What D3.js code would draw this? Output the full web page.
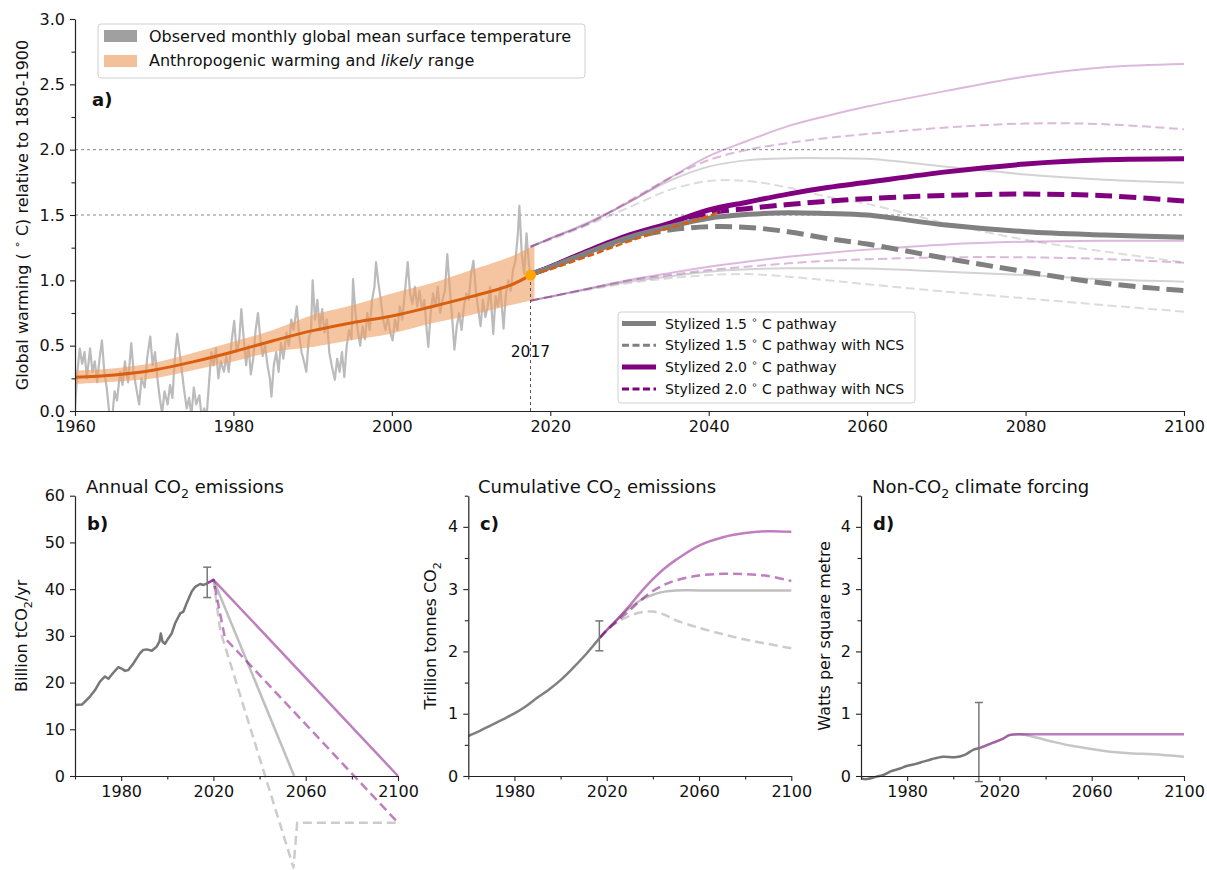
<!DOCTYPE html>
<html>
<head>
<meta charset="utf-8">
<script src="https://cdn.jsdelivr.net/npm/d3@7"></script>
<style>
body { margin:0; background:#fff; }
svg text { font-family:"DejaVu Sans", sans-serif; fill:#111; }
</style>
</head>
<body>
<svg id="fig" width="1207" height="870"></svg>
<script>
// ---------- panel a data ----------
// observed monthly GMST as [year, degC]
const obs = [
  [1960.0,0.02],[1960.3,0.30],[1960.6,0.48],[1960.9,0.36],[1961.2,0.45],[1961.5,0.25],[1961.9,0.48],
  [1962.2,0.30],[1962.5,0.38],[1962.8,0.22],[1963.1,0.40],[1963.4,0.54],[1963.7,0.30],[1964.0,0.18],
  [1964.3,0.00],[1964.7,-0.05],[1965.0,0.15],[1965.3,0.08],[1965.7,0.30],[1966.0,0.20],[1966.3,0.38],
  [1966.7,0.22],[1967.1,0.52],[1967.4,0.30],[1967.8,0.15],[1968.1,0.05],[1968.4,0.25],[1968.8,0.18],
  [1969.1,0.40],[1969.5,0.57],[1969.8,0.35],[1970.1,0.45],[1970.4,0.25],[1970.7,0.10],[1971.0,-0.02],
  [1971.3,0.15],[1971.7,0.05],[1972.0,0.20],[1972.3,0.10],[1972.6,0.40],[1972.9,0.59],[1973.2,0.45],
  [1973.5,0.30],[1973.8,0.15],[1974.1,0.02],[1974.4,0.10],[1974.7,-0.03],[1975.0,0.18],[1975.3,0.05],
  [1975.7,0.12],[1976.0,-0.05],[1976.3,0.02],[1976.6,-0.05],[1976.9,0.20],[1977.2,0.45],[1977.5,0.35],
  [1977.8,0.48],[1978.1,0.25],[1978.4,0.38],[1978.8,0.30],[1979.1,0.42],[1979.4,0.30],[1979.8,0.55],
  [1980.1,0.69],[1980.4,0.45],[1980.7,0.52],[1981.0,0.78],[1981.3,0.55],[1981.6,0.35],[1981.9,0.50],
  [1982.2,0.28],[1982.5,0.40],[1982.8,0.62],[1983.1,0.75],[1983.4,0.55],[1983.7,0.42],[1984.0,0.50],
  [1984.3,0.35],[1984.6,0.25],[1984.8,0.11],[1985.1,0.35],[1985.4,0.45],[1985.7,0.30],[1986.0,0.52],
  [1986.3,0.40],[1986.7,0.60],[1987.0,0.50],[1987.3,0.70],[1987.6,0.62],[1988.0,0.80],[1988.3,0.58],
  [1988.6,0.45],[1988.9,0.38],[1989.2,0.30],[1989.5,0.55],[1989.8,0.62],[1990.0,1.00],[1990.3,0.70],
  [1990.6,0.85],[1990.9,0.62],[1991.2,0.78],[1991.5,0.60],[1991.8,0.70],[1992.1,0.45],[1992.4,0.35],
  [1992.8,0.24],[1993.1,0.40],[1993.4,0.30],[1993.7,0.45],[1994.0,0.26],[1994.3,0.50],[1994.6,0.62],
  [1994.9,0.55],[1995.1,1.01],[1995.4,0.75],[1995.7,0.62],[1996.0,0.50],[1996.3,0.65],[1996.6,0.55],
  [1996.9,0.75],[1997.2,0.62],[1997.5,0.85],[1997.8,0.95],[1998.0,1.14],[1998.3,0.98],[1998.6,0.85],
  [1998.9,0.70],[1999.2,0.62],[1999.5,0.72],[1999.8,0.60],[2000.1,0.54],[2000.4,0.70],[2000.7,0.62],
  [2001.0,0.80],[2001.3,0.70],[2001.6,0.88],[2002.0,1.14],[2002.3,0.90],[2002.6,0.82],[2002.9,0.95],
  [2003.2,0.80],[2003.5,0.92],[2003.8,0.78],[2004.1,0.85],[2004.4,0.62],[2004.6,0.49],[2004.9,0.75],
  [2005.2,0.90],[2005.5,0.80],[2005.8,0.95],[2006.1,0.75],[2006.4,0.85],[2006.7,0.92],[2007.0,1.20],
  [2007.3,0.95],[2007.6,0.72],[2007.9,0.47],[2008.2,0.65],[2008.5,0.75],[2008.8,0.62],[2009.1,0.80],
  [2009.4,0.90],[2009.7,0.85],[2010.0,1.05],[2010.3,1.15],[2010.6,0.92],[2010.9,0.78],[2011.2,0.65],
  [2011.5,0.85],[2011.8,0.72],[2012.1,0.80],[2012.4,0.95],[2012.8,0.59],[2013.1,0.88],[2013.4,0.80],
  [2013.7,0.95],[2014.1,0.63],[2014.4,0.90],[2014.7,1.00],[2015.0,0.92],[2015.3,1.08],[2015.6,1.15],
  [2015.9,1.35],[2016.1,1.57],[2016.4,1.20],[2016.7,1.05],[2017.0,1.36],[2017.3,1.12],[2017.5,1.05]
];

// anthropogenic warming and likely range
const anthYear = [1960, 1965, 1970, 1975, 1980, 1985, 1990, 1995, 2000, 2005, 2010, 2015, 2017.5, 2018];
const anthMid  = [0.258, 0.276, 0.314, 0.378, 0.454, 0.538, 0.615, 0.676, 0.727, 0.798, 0.875, 0.964, 1.04, 1.055];
const anthLo   = [0.207, 0.224, 0.250, 0.314, 0.378, 0.454, 0.490, 0.543, 0.594, 0.671, 0.735, 0.811, 0.844, 0.85];
const anthHi   = [0.309, 0.327, 0.370, 0.446, 0.530, 0.620, 0.735, 0.810, 0.900, 0.977, 1.079, 1.181, 1.253, 1.265];

// stylized pathways
const futYear  = [2017.5, 2020, 2025, 2030, 2035, 2040, 2045, 2050, 2055, 2060, 2070, 2080, 2090, 2100];
const p15      = [1.045, 1.10, 1.22, 1.33, 1.41, 1.475, 1.505, 1.518, 1.512, 1.50, 1.423, 1.372, 1.347, 1.329];
const p15ncs   = [1.045, 1.10, 1.21, 1.32, 1.385, 1.41, 1.405, 1.372, 1.32, 1.278, 1.168, 1.066, 0.977, 0.921];
const p20      = [1.045, 1.104, 1.232, 1.347, 1.436, 1.538, 1.60, 1.66, 1.71, 1.75, 1.83, 1.89, 1.922, 1.93];
const p20ncs   = [1.045, 1.10, 1.225, 1.335, 1.42, 1.513, 1.55, 1.58, 1.605, 1.625, 1.65, 1.66, 1.648, 1.607];
const p15hi    = [1.257, 1.32, 1.44, 1.60, 1.76, 1.87, 1.92, 1.934, 1.935, 1.93, 1.87, 1.81, 1.77, 1.747];
const p15ncsHi = [1.257, 1.31, 1.43, 1.56, 1.69, 1.76, 1.76, 1.71, 1.64, 1.585, 1.436, 1.31, 1.22, 1.138];
const p20hi    = [1.257, 1.32, 1.45, 1.60, 1.78, 1.95, 2.07, 2.18, 2.26, 2.33, 2.45, 2.56, 2.63, 2.655];
const p20ncsHi = [1.257, 1.32, 1.44, 1.61, 1.78, 1.92, 2.00, 2.05, 2.09, 2.12, 2.17, 2.20, 2.195, 2.156];
const p15lo    = [0.844, 0.875, 0.935, 0.99, 1.03, 1.066, 1.085, 1.092, 1.092, 1.09, 1.066, 1.04, 1.008, 0.99];
const p15ncsLo = [0.844, 0.875, 0.93, 0.98, 1.015, 1.04, 1.048, 1.028, 1.0, 0.97, 0.913, 0.862, 0.81, 0.76];
const p20lo    = [0.844, 0.875, 0.94, 1.003, 1.055, 1.104, 1.145, 1.18, 1.21, 1.235, 1.275, 1.296, 1.303, 1.303];
const p20ncsLo = [0.844, 0.875, 0.94, 1.0, 1.04, 1.079, 1.105, 1.13, 1.15, 1.161, 1.176, 1.176, 1.163, 1.135];
const trendYear = [2017.5, 2020, 2025, 2030, 2035, 2040, 2041.5];
const trendExt  = [1.04, 1.085, 1.19, 1.30, 1.40, 1.49, 1.53];

// ---------- panel b: annual CO2 emissions (GtCO2/yr) ----------
const emisYear = [1960, 1963, 1966.5, 1968.7, 1970.8, 1973, 1974.5, 1976.6, 1978.8, 1980.2, 1981.7, 1983.1,
  1985.3, 1988.2, 1989.6, 1991.1, 1993.3, 1995.4, 1996.6, 1997.2, 1997.9, 1999, 2000.5, 2001.9, 2003.4,
  2005.6, 2007, 2008.4, 2010.6, 2012.1, 2014.2, 2015.7, 2017.1];
const emisHist = [15.2, 15.3, 17.0, 18.4, 20.2, 21.3, 20.8, 22.1, 23.3, 23.0, 22.5, 22.7, 24.1, 26.3, 27.0,
  27.1, 26.8, 27.7, 28.8, 30.5, 28.8, 28.3, 29.5, 30.5, 32.7, 34.8, 35.2, 37.0, 39.5, 40.5, 41.1, 40.9, 41.2];
const emis20Year = [2017.1, 2020, 2100];
const emis20     = [41.2, 42.0, 0];
const emis20ncsYear = [2017.1, 2020, 2025, 2100];
const emis20ncs     = [41.2, 42.0, 29.5, -10];
const emis15Year = [2020, 2055];
const emis15     = [42.0, 0];
const emis15ncsYear = [2020, 2023, 2054.7, 2056.3, 2100];
const emis15ncs     = [42.0, 31, -19.6, -10, -10];
const emisErr = [2017.3, 38.2, 44.7];

// ---------- panel c: cumulative CO2 (trillion t) ----------
const cumYear = [1960, 1965, 1970, 1975, 1980, 1985, 1990, 1995, 2000, 2005, 2010, 2015, 2017];
const cumHist = [0.642, 0.725, 0.818, 0.91, 1.005, 1.12, 1.26, 1.39, 1.54, 1.72, 1.914, 2.13, 2.22];
const cumFutYear = [2017, 2020, 2025, 2030, 2035, 2040, 2045, 2050, 2060, 2070, 2080, 2090, 2100];
const cum20    = [2.22, 2.34, 2.53, 2.74, 2.96, 3.16, 3.33, 3.47, 3.70, 3.83, 3.90, 3.93, 3.92];
const cum20ncs = [2.22, 2.34, 2.50, 2.66, 2.83, 2.97, 3.07, 3.14, 3.22, 3.245, 3.24, 3.21, 3.13];
const cum15    = [2.22, 2.34, 2.53, 2.70, 2.83, 2.91, 2.96, 2.98, 2.98, 2.98, 2.98, 2.98, 2.98];
const cum15ncs = [2.22, 2.34, 2.48, 2.57, 2.63, 2.64, 2.59, 2.50, 2.38, 2.28, 2.19, 2.12, 2.05];
const cumErr = [2016.8, 2.01, 2.49];

// ---------- panel d: non-CO2 forcing (W/m2) ----------
const forcYear = [1960, 1962.5, 1966.8, 1969.7, 1972.6, 1976.9, 1979.8, 1983.4, 1987, 1990.6, 1995.6,
  2000.7, 2005, 2008.6, 2010.8];
const forcHist = [-0.04, -0.05, -0.01, 0.016, 0.07, 0.12, 0.16, 0.19, 0.23, 0.27, 0.31, 0.30, 0.34, 0.42, 0.44];
const forc20Year = [2010.8, 2017.3, 2021.6, 2024.5, 2028.8, 2100];
const forc20     = [0.44, 0.535, 0.60, 0.66, 0.67, 0.67];
const forc15Year = [2010.8, 2017.3, 2021.6, 2024.5, 2028.8, 2034.6, 2043.3, 2051.9, 2060.6, 2069.2, 2077.9, 2086.6, 2100];
const forc15     = [0.44, 0.535, 0.60, 0.66, 0.67, 0.63, 0.55, 0.48, 0.43, 0.385, 0.36, 0.35, 0.31];
const forcErr = [2011.1, -0.09, 1.18];

// ---------- drawing ----------
const svg = d3.select("#fig");
const PURPLE = "#800080", GREY = "#808080", ORANGE = "#d95f0e";
const smooth = d3.curveCatmullRom.alpha(0.5);

function rich(t, parts, size) {
  // parts: plain strings or [text, "sub"|"sup"]
  let shift = 0;
  parts.forEach(p => {
    let txt = p, kind = "";
    if (Array.isArray(p)) { txt = p[0]; kind = p[1]; }
    let target = kind == "sub" ? size*0.3 : kind == "sup" ? -size*0.42 : 0;
    t.append("tspan").text(txt)
      .attr("dy", target - shift)
      .attr("font-size", kind ? size*0.7 : size);
    shift = target;
  });
}

function styleAxis(g) {
  g.select(".domain").attr("stroke", "#222").attr("stroke-width", 1.2);
  g.selectAll(".tick line").attr("stroke", "#222").attr("stroke-width", 1.1);
  g.selectAll(".tick text").attr("font-size", 16).attr("fill", "#111")
    .attr("font-family", "DejaVu Sans, sans-serif");
}

function drawAxes(x, y, xMajor, xMinor, yMajor, yMinor, yFmt) {
  let y0 = y.range()[0], x0 = x.range()[0];
  let gx = svg.append("g").attr("transform", `translate(0,${y0})`)
    .call(d3.axisBottom(x).tickValues(xMajor).tickSize(5).tickSizeOuter(0).tickPadding(5).tickFormat(d3.format("d")));
  styleAxis(gx);
  let gy = svg.append("g").attr("transform", `translate(${x0},0)`)
    .call(d3.axisLeft(y).tickValues(yMajor).tickSize(5).tickSizeOuter(0).tickPadding(5).tickFormat(yFmt));
  styleAxis(gy);
  if (xMinor.length) {
    let m = svg.append("g").attr("transform", `translate(0,${y0})`)
      .call(d3.axisBottom(x).tickValues(xMinor).tickSize(3.5).tickFormat(""));
    m.select(".domain").remove();
    styleAxis(m);
  }
  if (yMinor.length) {
    let m = svg.append("g").attr("transform", `translate(${x0},0)`)
      .call(d3.axisLeft(y).tickValues(yMinor).tickSize(3.5).tickFormat(""));
    m.select(".domain").remove();
    styleAxis(m);
  }
}

function path(g, x, y, xs, ys, stroke, width, opts={}) {
  let line = d3.line().x(d => x(d[0])).y(d => y(d[1]));
  if (opts.curve) line.curve(opts.curve);
  return g.append("path").datum(d3.zip(xs, ys))
    .attr("d", line).attr("fill", "none")
    .attr("stroke", stroke).attr("stroke-width", width)
    .attr("stroke-opacity", opts.alpha == null ? 1 : opts.alpha)
    .attr("stroke-dasharray", opts.dash || null)
    .attr("stroke-linejoin", "round");
}

function errBar(g, x, y, e) {
  let cx = x(e[0]);
  g.append("line").attr("x1", cx).attr("x2", cx).attr("y1", y(e[1])).attr("y2", y(e[2]))
    .attr("stroke", "#777").attr("stroke-width", 1.5);
  [e[1], e[2]].forEach(v => g.append("line").attr("x1", cx-4).attr("x2", cx+4)
    .attr("y1", y(v)).attr("y2", y(v)).attr("stroke", "#777").attr("stroke-width", 1.5));
}

// ===== panel a =====
const xa = d3.scaleLinear([1960, 2100], [75, 1184]);
const ya = d3.scaleLinear([0, 3], [411, 19]);
svg.append("clipPath").attr("id", "clipA").append("rect")
  .attr("x", 75).attr("y", 19).attr("width", 1109).attr("height", 392);
const ga = svg.append("g");

[1.5, 2.0].forEach(v => ga.append("line").attr("x1", xa(1960)).attr("x2", xa(2100))
  .attr("y1", ya(v)).attr("y2", ya(v)).attr("stroke", "#888").attr("stroke-width", 1)
  .attr("stroke-dasharray", "3,3"));

ga.append("path").datum(obs).attr("clip-path", "url(#clipA)")
  .attr("d", d3.line().x(d => xa(d[0])).y(d => ya(d[1])))
  .attr("fill", "none").attr("stroke", "#b4b4b4").attr("stroke-opacity", 0.9).attr("stroke-width", 2.2)
  .attr("stroke-linejoin", "round");

const band = d3.area().curve(smooth)
  .x(d => xa(d[0])).y0(d => ya(d[1])).y1(d => ya(d[2]));
ga.append("path").datum(d3.zip(anthYear, anthLo, anthHi)).attr("d", band)
  .attr("fill", "#ee9e63").attr("fill-opacity", 0.6);

path(ga, xa, ya, anthYear.slice(0, -1), anthMid.slice(0, -1), ORANGE, 3, {curve: smooth});

// pale range lines
const paleDash = "9,4.5";
path(ga, xa, ya, futYear, p15hi, GREY, 2, {alpha: 0.35, curve: smooth});
path(ga, xa, ya, futYear, p15lo, GREY, 2, {alpha: 0.35, curve: smooth});
path(ga, xa, ya, futYear, p15ncsHi, GREY, 2, {alpha: 0.28, dash: paleDash, curve: smooth});
path(ga, xa, ya, futYear, p15ncsLo, GREY, 2, {alpha: 0.28, dash: paleDash, curve: smooth});
path(ga, xa, ya, futYear, p20hi, PURPLE, 2, {alpha: 0.28, curve: smooth});
path(ga, xa, ya, futYear, p20lo, PURPLE, 2, {alpha: 0.28, curve: smooth});
path(ga, xa, ya, futYear, p20ncsHi, PURPLE, 2, {alpha: 0.28, dash: paleDash, curve: smooth});
path(ga, xa, ya, futYear, p20ncsLo, PURPLE, 2, {alpha: 0.28, dash: paleDash, curve: smooth});

// central pathways
path(ga, xa, ya, futYear, p20, PURPLE, 5, {curve: smooth});
path(ga, xa, ya, futYear, p20ncs, PURPLE, 5, {dash: "17,7", curve: smooth});
path(ga, xa, ya, futYear, p15, GREY, 5, {curve: smooth});
path(ga, xa, ya, futYear, p15ncs, GREY, 5, {dash: "17,7", curve: smooth});
path(ga, xa, ya, trendYear, trendExt, ORANGE, 2.5, {dash: "7,3", curve: smooth});

// 2017 marker
ga.append("line").attr("x1", xa(2017.5)).attr("x2", xa(2017.5)).attr("y1", ya(0)).attr("y2", ya(1.04))
  .attr("stroke", "#555").attr("stroke-width", 1).attr("stroke-dasharray", "3,3");
ga.append("text").attr("x", xa(2017.5)).attr("y", 357).attr("text-anchor", "middle")
  .attr("font-size", 15.5).text("2017");
ga.append("circle").attr("cx", xa(2017.5)).attr("cy", ya(1.04)).attr("r", 5.5).attr("fill", "orange");

drawAxes(xa, ya, d3.range(1960, 2101, 20), [], d3.range(0, 3.01, 0.5), d3.range(0.25, 3, 0.5), d3.format(".1f"));

// y label a
rich(svg.append("text").attr("transform", "translate(28,215) rotate(-90)").attr("text-anchor", "middle"),
  ["Global warming ( ", ["∘", "sup"], " C) relative to 1850-1900"], 16);
svg.append("text").attr("x", 92).attr("y", 106).attr("font-size", 18).attr("font-weight", "bold").text("a)");

// legend 1
const lg1 = svg.append("g");
lg1.append("rect").attr("x", 98).attr("y", 24).attr("width", 487).attr("height", 54).attr("rx", 3)
  .attr("fill", "white").attr("fill-opacity", 0.8).attr("stroke", "#d0d0d0");
lg1.append("rect").attr("x", 104).attr("y", 30).attr("width", 33).attr("height", 12).attr("fill", "#a0a0a0");
lg1.append("rect").attr("x", 104).attr("y", 55).attr("width", 33).attr("height", 12)
  .attr("fill", "#ee9e63").attr("fill-opacity", 0.65);
lg1.append("text").attr("x", 149).attr("y", 42).attr("font-size", 16)
  .text("Observed monthly global mean surface temperature");
let t2 = lg1.append("text").attr("x", 149).attr("y", 66).attr("font-size", 16);
t2.append("tspan").text("Anthropogenic warming and ");
t2.append("tspan").attr("font-style", "italic").text("likely");
t2.append("tspan").text(" range");

// legend 2
const lg2 = svg.append("g");
lg2.append("rect").attr("x", 618).attr("y", 312).attr("width", 297).attr("height", 91).attr("rx", 3)
  .attr("fill", "white").attr("fill-opacity", 0.8).attr("stroke", "#d0d0d0");
const lg2Items = [
  [GREY, 5, null, "1.5", " pathway"],
  [GREY, 3, "7,3.5", "1.5", " pathway with NCS"],
  [PURPLE, 5, null, "2.0", " pathway"],
  [PURPLE, 3, "7,3.5", "2.0", " pathway with NCS"]
];
lg2Items.forEach((it, i) => {
  let cy = 323.5 + i*21.8;
  lg2.append("line").attr("x1", 622).attr("x2", 656).attr("y1", cy).attr("y2", cy)
    .attr("stroke", it[0]).attr("stroke-width", it[1]).attr("stroke-dasharray", it[2]);
  rich(lg2.append("text").attr("x", 665).attr("y", cy + 5),
    ["Stylized " + it[3] + " ", ["∘", "sup"], " C" + it[4]], 14);
});

// ===== panels b, c, d =====
const top2 = 495.7, bot2 = 776;
const xb = d3.scaleLinear([1960, 2100], [75, 398]);
const yb = d3.scaleLinear([0, 60], [bot2, top2]);
const xc = d3.scaleLinear([1960, 2100], [468.3, 791.3]);
const yc = d3.scaleLinear([0, 4.5], [bot2, top2]);
const xd = d3.scaleLinear([1960, 2100], [861, 1184]);
const yd = d3.scaleLinear([0, 4.5], [bot2, top2]);
const xMaj = [1980, 2020, 2060, 2100], xMin = [1960, 2000, 2040, 2080];
const dash2 = "9,5";

// b
const gb = svg.append("g");
path(gb, xb, yb, emisYear, emisHist, "#777", 2.5);
path(gb, xb, yb, emis15Year, emis15, GREY, 2.5, {alpha: 0.5});
path(gb, xb, yb, emis15ncsYear, emis15ncs, GREY, 2.5, {alpha: 0.4, dash: dash2});
path(gb, xb, yb, emis20Year, emis20, PURPLE, 2.5, {alpha: 0.5});
path(gb, xb, yb, emis20ncsYear, emis20ncs, PURPLE, 2.5, {alpha: 0.5, dash: dash2});
errBar(gb, xb, yb, emisErr);
drawAxes(xb, yb, xMaj, xMin, d3.range(0, 61, 10), [], d3.format("d"));

// c
const gc = svg.append("g");
path(gc, xc, yc, cumYear, cumHist, "#808080", 2.5, {curve: smooth});
path(gc, xc, yc, cumFutYear, cum15, GREY, 2.5, {alpha: 0.5, curve: smooth});
path(gc, xc, yc, cumFutYear, cum15ncs, GREY, 2.5, {alpha: 0.4, dash: dash2, curve: smooth});
path(gc, xc, yc, cumFutYear, cum20, PURPLE, 2.5, {alpha: 0.5, curve: smooth});
path(gc, xc, yc, cumFutYear, cum20ncs, PURPLE, 2.5, {alpha: 0.5, dash: dash2, curve: smooth});
errBar(gc, xc, yc, cumErr);
drawAxes(xc, yc, xMaj, xMin, d3.range(0, 4.1, 1), d3.range(0.5, 4.6, 1), d3.format("d"));

// d
const gd = svg.append("g");
path(gd, xd, yd, forc15Year, forc15, GREY, 2.5, {alpha: 0.45, curve: smooth});
path(gd, xd, yd, forc20Year, forc20, PURPLE, 2.5, {alpha: 0.5, curve: d3.curveMonotoneX});
path(gd, xd, yd, forcYear, forcHist, "#777", 2.5, {curve: smooth});
errBar(gd, xd, yd, forcErr);
drawAxes(xd, yd, xMaj, xMin, d3.range(0, 4.1, 1), d3.range(0.5, 4.6, 1), d3.format("d"));

// titles, panel letters and y labels
const small = [
  [86, ["Annual CO", ["2", "sub"], " emissions"], 87, "b)", 27, ["Billion tCO", ["2", "sub"], "/yr"]],
  [478, ["Cumulative CO", ["2", "sub"], " emissions"], 480, "c)", 436, ["Trillion tonnes CO", ["2", "sub"]]],
  [872, ["Non-CO", ["2", "sub"], " climate forcing"], 873, "d)", 830, ["Watts per square metre"]]
];
small.forEach(s => {
  rich(svg.append("text").attr("x", s[0]).attr("y", 493), s[1], 18);
  svg.append("text").attr("x", s[2]).attr("y", 530).attr("font-size", 18).attr("font-weight", "bold").text(s[3]);
  rich(svg.append("text").attr("transform", `translate(${s[4]},${(top2 + bot2)/2}) rotate(-90)`)
    .attr("text-anchor", "middle"), s[5], 16);
});
</script>
</body>
</html>
